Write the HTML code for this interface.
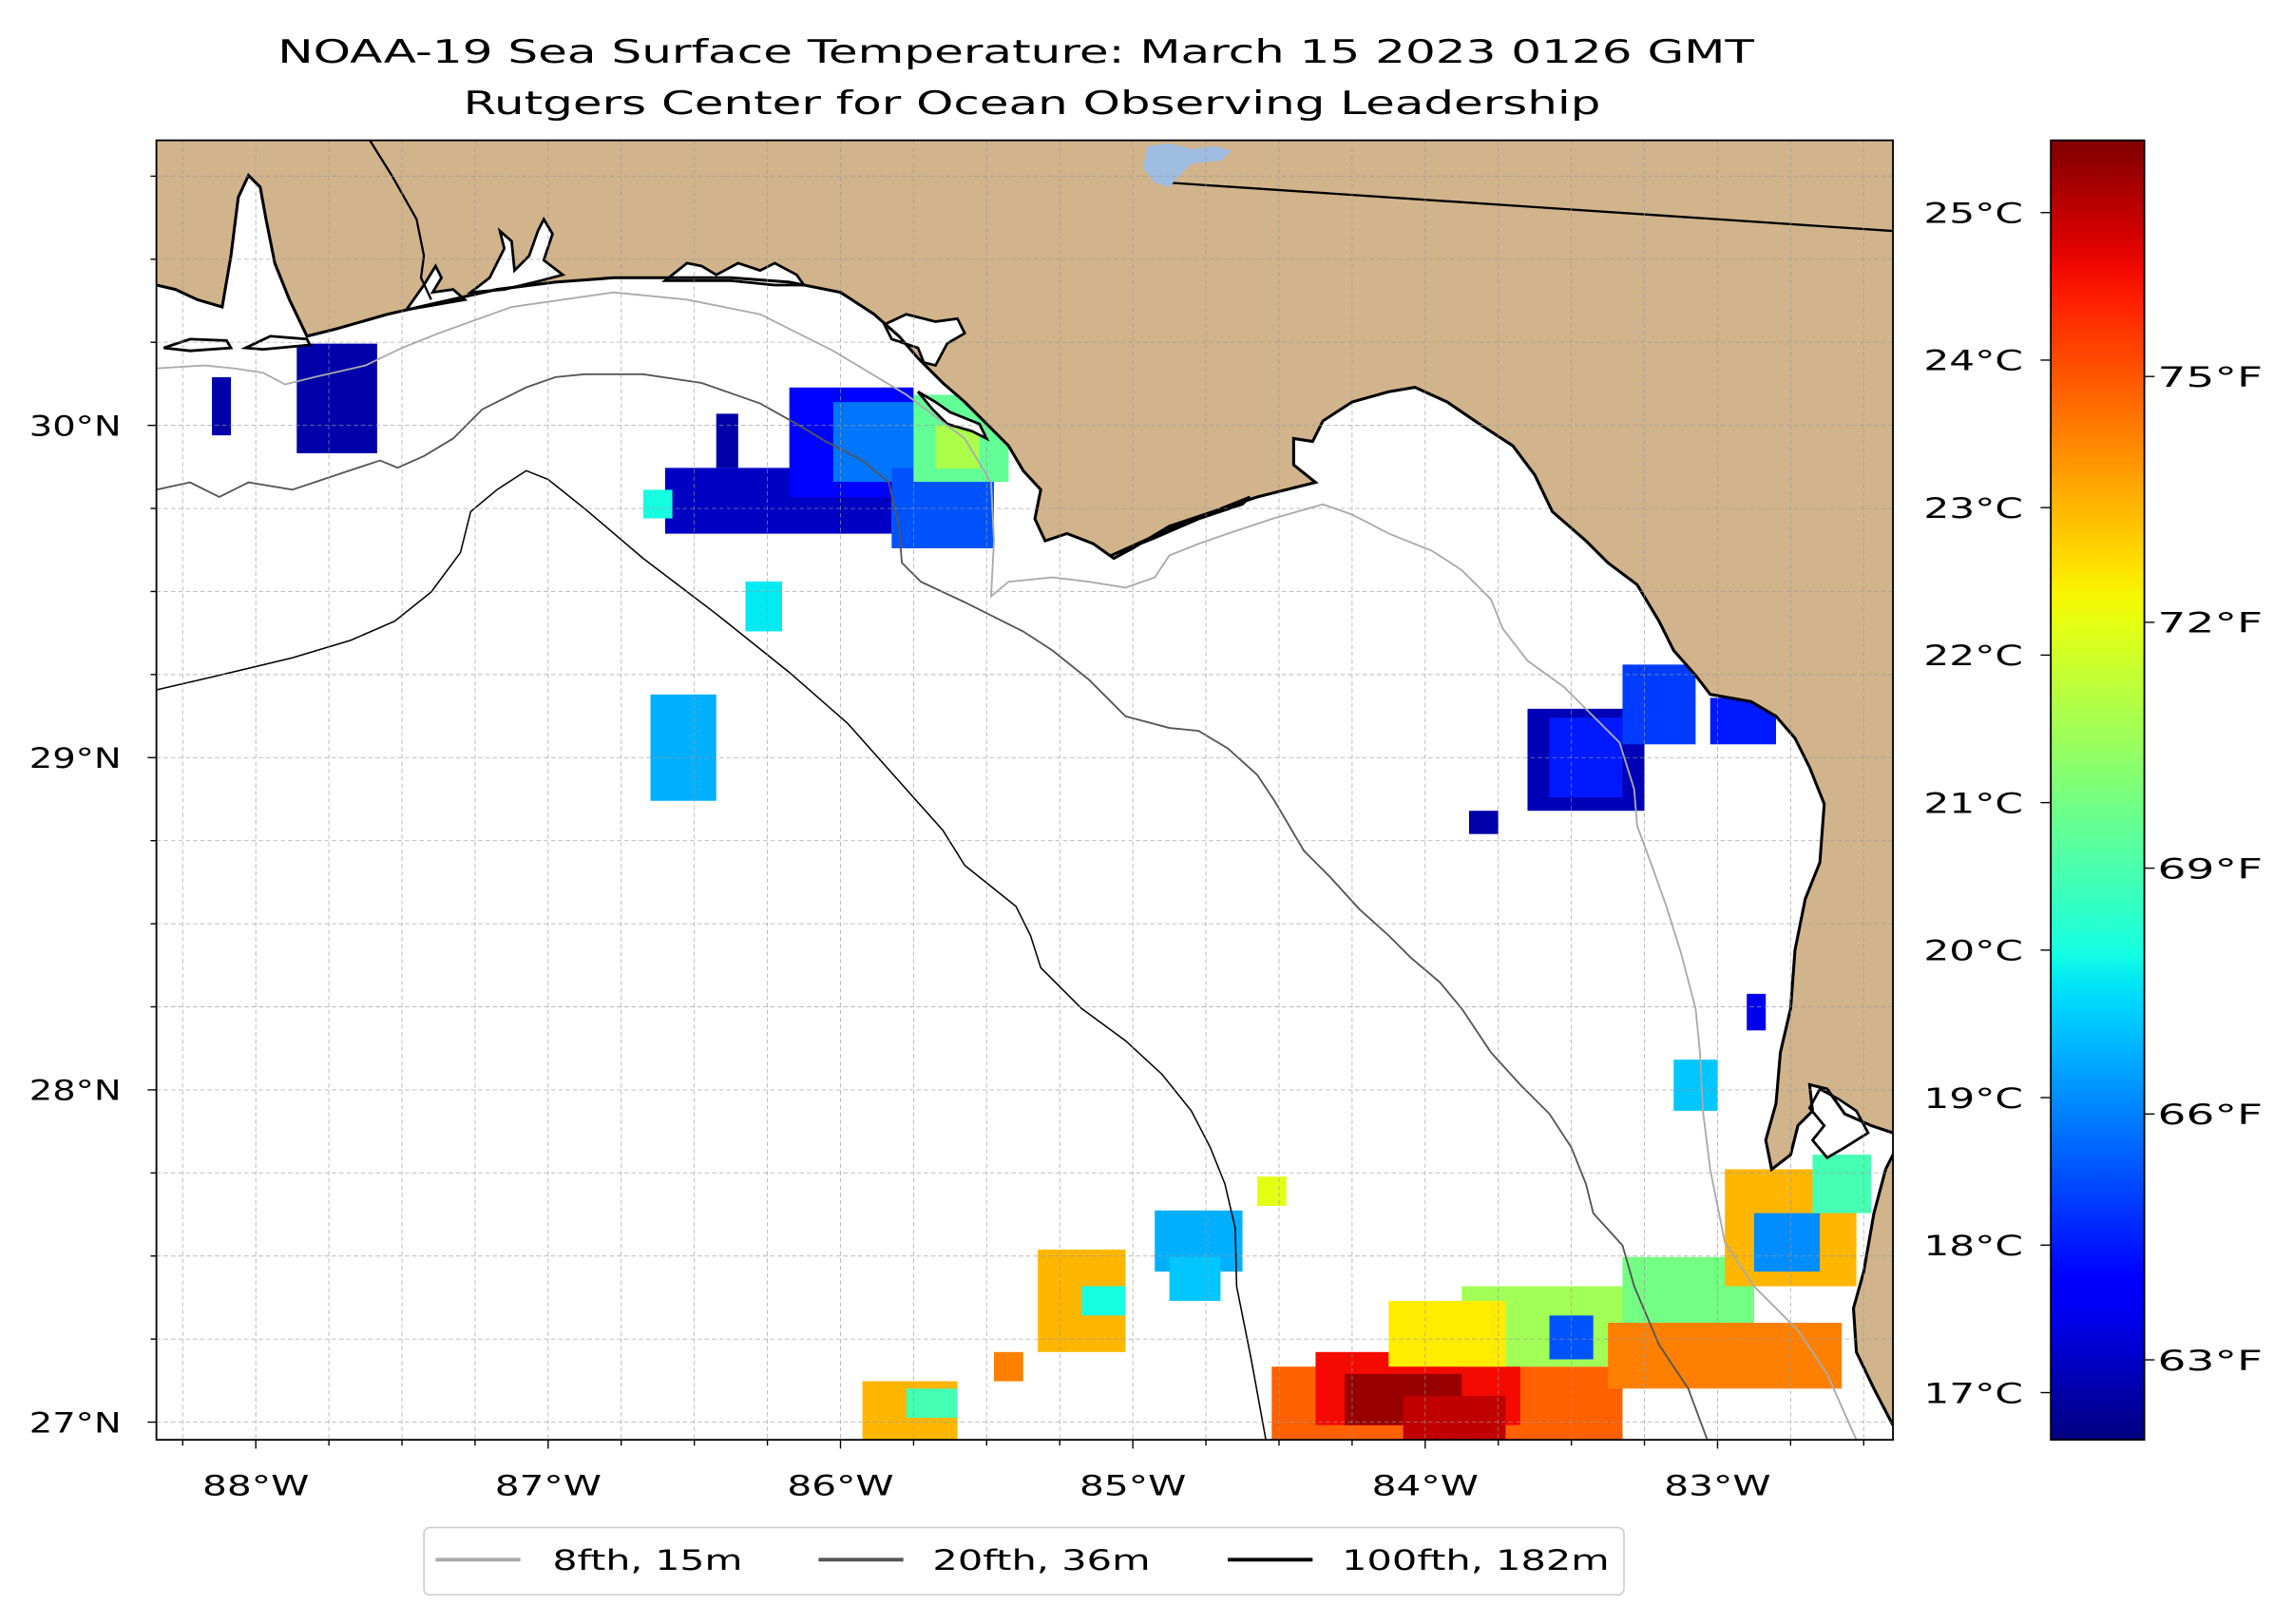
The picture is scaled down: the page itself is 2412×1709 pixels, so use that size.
<!DOCTYPE html>
<html><head><meta charset="utf-8"><title>NOAA-19 SST</title>
<style>
html,body{margin:0;padding:0;background:#fff;}
svg{display:block;font-family:"DejaVu Sans","Liberation Sans",sans-serif;}
</style></head>
<body>
<svg id="fig" width="2412" height="1709" viewBox="0 0 1568 1111" xmlns="http://www.w3.org/2000/svg">
<defs>
<clipPath id="mapclip"><rect x="107" y="96" width="1188" height="889"/></clipPath>
<linearGradient id="jetgrad" x1="0" y1="1" x2="0" y2="0"></linearGradient>
</defs>
<text x="190" y="43" font-size="22" textLength="1010" lengthAdjust="spacingAndGlyphs" fill="#000">NOAA-19 Sea Surface Temperature: March 15 2023 0126 GMT</text>
<text x="317" y="78" font-size="22" textLength="778" lengthAdjust="spacingAndGlyphs" fill="#000">Rutgers Center for Ocean Observing Leadership</text>
<g clip-path="url(#mapclip)">
<rect x="107" y="96" width="1188" height="889" fill="#fff"/>
<g id="sst"></g>
<path fill="#d2b48c" stroke="none" d="M107,96 L1295,96 L1295,975 L1282,950 L1270,925 L1268,895 L1275,870 L1282,830 L1290,800 L1295,790 L1295,775 L1280,770 L1262,762 L1250,745 L1238,742 L1240,760 L1230,770 L1225,790 L1212,800 L1208,780 L1215,755 L1218,720 L1225,690 L1228,650 L1235,615 L1245,590 L1248,550 L1238,525 L1228,505 L1215,490 L1198,480 L1170,475 L1160,462 L1145,445 L1135,425 L1120,400 L1100,385 L1085,370 L1062,350 L1050,325 L1035,305 L1012,290 L990,275 L968,265 L950,268 L925,275 L905,288 L898,302 L885,300 L885,318 L900,330 L860,340 L830,350 L800,360 L775,375 L762,382 L748,372 L730,365 L715,370 L708,355 L712,335 L700,322 L690,305 L675,290 L660,275 L645,262 L628,245 L615,230 L598,215 L575,200 L540,193 L500,190 L460,190 L420,190 L380,193 L340,198 L300,207 L265,215 L230,225 L210,230 L198,205 L188,180 L182,150 L178,128 L170,120 L163,135 L158,175 L152,210 L135,205 L120,198 L107,195 Z"/>
<g fill="#fff" stroke="#000" stroke-width="1.8">
<path d="M278,212 L290,195 L298,182 L302,190 L296,200 L310,198 L318,205 Z"/>
<path d="M322,200 L335,190 L345,170 L342,158 L350,165 L352,185 L362,175 L368,158 L372,150 L378,160 L372,178 L385,188 L370,192 L345,198 Z"/>
<path d="M455,192 L470,180 L480,182 L490,188 L505,180 L520,185 L530,180 L545,188 L550,195 L530,195 L500,192 Z"/>
<path d="M605,222 L620,215 L640,220 L655,218 L660,228 L648,235 L640,250 L632,248 L628,238 L610,232 Z"/>
<path d="M628,268 L640,275 L650,282 L670,290 L675,300 L665,295 L648,290 L638,280 Z"/>
<path d="M760,380 L790,368 L820,355 L850,345 L855,340 L830,350 L800,362 Z"/>
<path d="M112,238 L130,232 L155,233 L158,238 L130,240 Z"/>
<path d="M168,238 L185,230 L210,232 L212,236 L180,239 Z"/>
<path d="M1245,745 L1258,752 L1270,760 L1278,775 L1262,785 L1250,792 L1240,780 L1248,770 L1238,758 Z"/>
</g>
<path fill="none" stroke="#000" stroke-width="2" d="M1295,975 L1282,950 L1270,925 L1268,895 L1275,870 L1282,830 L1290,800 L1295,790 M1295,775 L1280,770 L1262,762 L1250,745 L1238,742 L1240,760 L1230,770 L1225,790 L1212,800 L1208,780 L1215,755 L1218,720 L1225,690 L1228,650 L1235,615 L1245,590 L1248,550 L1238,525 L1228,505 L1215,490 L1198,480 L1170,475 L1160,462 L1145,445 L1135,425 L1120,400 L1100,385 L1085,370 L1062,350 L1050,325 L1035,305 L1012,290 L990,275 L968,265 L950,268 L925,275 L905,288 L898,302 L885,300 L885,318 L900,330 L860,340 L830,350 L800,360 L775,375 L762,382 L748,372 L730,365 L715,370 L708,355 L712,335 L700,322 L690,305 L675,290 L660,275 L645,262 L628,245 L615,230 L598,215 L575,200 L540,193 L500,190 L460,190 L420,190 L380,193 L340,198 L300,207 L265,215 L230,225 L210,230 L198,205 L188,180 L182,150 L178,128 L170,120 L163,135 L158,175 L152,210 L135,205 L120,198 L107,195"/>
<path fill="none" stroke="#000" stroke-width="1.5" d="M253,96 L268,120 L285,150 L290,175 L288,190 L295,205"/>
<path fill="none" stroke="#000" stroke-width="1.5" d="M800,125 L1295,158"/>
<path fill="#9fbde0" d="M785,100 L800,98 L815,102 L830,100 L843,103 L835,110 L815,112 L805,122 L800,128 L790,125 L782,115 Z"/>
<g id="isobaths"></g>
<g id="grid"></g>
</g>
<rect x="107" y="96" width="1188" height="889" fill="none" stroke="#000" stroke-width="1.2"/>
<g id="axes"></g>
<rect x="1403" y="96" width="64" height="889" fill="url(#jetgrad)"/>
<rect x="1403" y="96" width="64" height="889" fill="none" stroke="#000" stroke-width="1.2"/>
<g id="cbaxis"></g>
<g>
<rect x="290" y="1045" width="821" height="46" rx="4" fill="#fff" stroke="#ccc" stroke-width="1"/>
<line x1="298" y1="1067" x2="356" y2="1067" stroke="#aaa" stroke-width="2.5"/>
<text x="378" y="1074" font-size="19" textLength="130" lengthAdjust="spacingAndGlyphs">8fth, 15m</text>
<line x1="560" y1="1067" x2="618" y2="1067" stroke="#555" stroke-width="2.5"/>
<text x="638" y="1074" font-size="19" textLength="149" lengthAdjust="spacingAndGlyphs">20fth, 36m</text>
<line x1="840" y1="1067" x2="898" y2="1067" stroke="#000" stroke-width="2.5"/>
<text x="918" y="1074" font-size="19" textLength="183" lengthAdjust="spacingAndGlyphs">100fth, 182m</text>
</g>
</svg>
<script>
// ---- data ----
const lonTicks = [-88, -87, -86, -85, -84, -83];
const lonTickLabels = ["88°W", "87°W", "86°W", "85°W", "84°W", "83°W"];
const latTicks = [27, 28, 29, 30];
const latTickLabels = ["27°N", "28°N", "29°N", "30°N"];
const cTicks = [17, 18, 19, 20, 21, 22, 23, 24, 25];
const fTicks = [63, 66, 69, 72, 75];
const tempRange = [16.68, 25.49];
const patchLonW = [-87.86,-88.15,-86.6,-86.175,-86.025,-85.825,-85.75,-85.675,-86.675,-86.425,-86.325,-86.65,-83.65,-83.575,-83.325,-83.025,-83.85,-82.9,-83.15,-84.925,-84.875,-85.325,-85.175,-85.475,-85.925,-85.775,-84.525,-84.375,-83.875,-83.575,-83.325,-82.975,-83.375,-82.875,-82.675,-84.125,-84.575,-84.275,-84.075];
const patchLonE = [-87.585,-88.085,-85.825,-85.75,-85.675,-85.475,-85.425,-85.525,-86.575,-86.35,-86.2,-86.425,-83.25,-83.325,-83.075,-82.8,-83.75,-82.835,-83.0,-84.625,-84.7,-85.025,-85.025,-85.375,-85.6,-85.6,-83.325,-83.675,-83.225,-83.425,-82.875,-82.525,-82.575,-82.65,-82.475,-83.725,-84.475,-83.875,-83.725];
const patchLatN = [30.246,30.145,29.872,30.114,30.07,29.872,30.092,30.0,29.806,30.035,29.53,29.19,29.147,29.12,29.28,29.18,28.84,28.289,28.091,27.637,27.497,27.519,27.409,27.211,27.123,27.101,27.167,27.211,27.409,27.321,27.497,27.761,27.299,27.629,27.805,27.365,27.739,27.145,27.079];
const patchLatS = [29.916,29.97,29.674,29.784,29.83,29.63,29.83,29.87,29.72,29.872,29.38,28.87,28.84,28.88,29.04,29.04,28.77,28.179,27.937,27.453,27.365,27.211,27.321,27.123,26.947,27.013,26.947,26.991,27.167,27.189,27.299,27.409,27.101,27.453,27.629,27.167,27.651,26.991,26.947];
const patchTemp = [17.0,17.0,17.2,17.8,18.8,18.5,20.8,21.6,20.0,17.0,19.8,19.3,17.1,18.0,18.3,18.0,17.0,17.5,19.5,19.3,19.5,23.0,20.0,23.5,23.0,20.5,23.8,24.6,21.5,18.5,21.0,23.0,23.5,19.0,20.5,22.5,22.2,25.3,25.0];

// ---- scales ----
const NS = "http://www.w3.org/2000/svg";
function xOf(lon){ return 175 + (lon + 88) * 200; }
function yOf(lat){ return 291 - (lat - 30) * 227.3; }
function cbY(t){ return 985 - (t - tempRange[0]) / (tempRange[1] - tempRange[0]) * 889; }
function interp(pts, v){
  for (let i = 1; i < pts.length; i++) {
    if (v <= pts[i][0]) { const a = pts[i-1], b = pts[i]; return a[1] + (b[1]-a[1]) * (v-a[0]) / (b[0]-a[0]); }
  }
  return pts[pts.length-1][1];
}
function jet(v){
  v = Math.max(0, Math.min(1, v));
  const r = interp([[0,0],[0.35,0],[0.66,1],[0.89,1],[1,0.5]], v);
  const g = interp([[0,0],[0.125,0],[0.375,1],[0.64,1],[0.91,0],[1,0]], v);
  const b = interp([[0,0.5],[0.11,1],[0.34,1],[0.65,0],[1,0]], v);
  return "rgb(" + Math.round(r*255) + "," + Math.round(g*255) + "," + Math.round(b*255) + ")";
}
function tempColor(t){ return jet((t - tempRange[0]) / (tempRange[1] - tempRange[0])); }
function mk(tag, attrs, parent){
  const e = document.createElementNS(NS, tag);
  for (const k in attrs) e.setAttribute(k, attrs[k]);
  parent.appendChild(e);
  return e;
}

// colorbar gradient
const grad = document.getElementById("jetgrad");
for (let i = 0; i <= 40; i++) {
  mk("stop", {offset: (i/40).toString(), "stop-color": jet(i/40)}, grad);
}

// SST patches
const sst = document.getElementById("sst");
for (let i = 0; i < patchTemp.length; i++) {
  const x0 = xOf(patchLonW[i]), x1 = xOf(patchLonE[i]);
  const y0 = yOf(patchLatN[i]), y1 = yOf(patchLatS[i]);
  const r = mk("rect", {x: x0, y: y0, width: x1 - x0, height: y1 - y0, fill: tempColor(patchTemp[i])}, sst);
  
  
}

// isobaths
const iso = document.getElementById("isobaths");
const isoDefs = [
  {name: "isobath-8fth", color: "#aaa", w: 1.2, d: "M107,252 L140,250 L160,252 L180,255 L195,263 L215,258 L250,250 L275,238 L300,228 L350,210 L420,200 L470,205 L520,215 L570,240 L620,270 L660,300 L678,330 L680,370 L678,408 L690,398 L720,395 L745,398 L770,402 L790,395 L800,380 L820,372 L840,365 L870,355 L905,345 L925,352 L950,365 L980,377 L1000,390 L1020,410 L1028,430 L1045,452 L1070,470 L1090,490 L1108,508 L1118,540 L1120,565 L1130,592 L1140,620 L1150,652 L1160,690 L1163,720 L1165,760 L1170,800 L1180,850 L1200,880 L1230,910 L1250,940 L1270,985"},
  {name: "isobath-20fth", color: "#555", w: 1.2, d: "M107,335 L130,330 L150,340 L170,330 L200,335 L230,325 L260,315 L272,320 L290,312 L310,300 L330,280 L360,265 L380,258 L400,256 L440,256 L480,262 L520,276 L545,290 L565,302 L590,315 L608,330 L615,360 L617,385 L630,398 L660,412 L700,432 L720,445 L745,465 L770,490 L800,498 L820,500 L840,512 L860,530 L872,548 L882,565 L892,582 L910,600 L930,622 L950,640 L965,655 L985,672 L1000,690 L1020,720 L1040,742 L1060,762 L1075,785 L1085,810 L1090,830 L1110,852 L1118,880 L1135,920 L1155,950 L1168,985"},
  {name: "isobath-100fth", color: "#000", w: 1.0, d: "M107,472 L150,462 L200,450 L240,438 L270,425 L295,405 L315,378 L322,350 L340,335 L360,322 L375,328 L400,348 L440,382 L490,420 L540,460 L580,495 L620,540 L645,568 L660,592 L695,620 L705,640 L712,662 L740,690 L770,712 L795,735 L815,760 L828,785 L838,810 L845,840 L846,880 L856,930 L866,985"}
];
for (const s of isoDefs) {
  const p = mk("path", {d: s.d, fill: "none", stroke: s.color, "stroke-width": s.w}, iso);
  
  
}

// gridlines every 0.25 deg
const grid = document.getElementById("grid");
for (let lon = -88.25; lon <= -82.4; lon += 0.25) {
  const x = xOf(lon);
  const l = mk("line", {x1: x, y1: 96, x2: x, y2: 985, stroke: "#999", "stroke-width": 0.6, "stroke-dasharray": "3,2", opacity: 0.7}, grid);
  
  
}
for (let lat = 27; lat <= 30.9; lat += 0.25) {
  const y = yOf(lat);
  const l = mk("line", {x1: 107, y1: y, x2: 1295, y2: y, stroke: "#999", "stroke-width": 0.6, "stroke-dasharray": "3,2", opacity: 0.7}, grid);
  
  
}

// axes ticks
const axes = document.getElementById("axes");
for (let lon = -88.25; lon <= -82.4; lon += 0.25) {
  const x = xOf(lon);
  const major = Math.abs(lon - Math.round(lon)) < 1e-6;
  mk("line", {x1: x, y1: 985, x2: x, y2: major ? 991 : 989, stroke: "#000", "stroke-width": 0.9}, axes);
}
for (let lat = 27; lat <= 30.9; lat += 0.25) {
  const y = yOf(lat);
  const major = Math.abs(lat - Math.round(lat)) < 1e-6;
  mk("line", {x1: 107, y1: y, x2: major ? 101 : 103, y2: y, stroke: "#000", "stroke-width": 0.9}, axes);
}
for (let i = 0; i < lonTicks.length; i++) {
  const t = mk("text", {x: xOf(lonTicks[i]) - 36.5, y: 1023, "font-size": 19, textLength: 73, lengthAdjust: "spacingAndGlyphs"}, axes);
  t.textContent = lonTickLabels[i];
  
  
}
for (let i = 0; i < latTicks.length; i++) {
  const t = mk("text", {x: 20, y: yOf(latTicks[i]) + 7, "font-size": 19, textLength: 63, lengthAdjust: "spacingAndGlyphs"}, axes);
  t.textContent = latTickLabels[i];
  
  
}

// colorbar axes
const cb = document.getElementById("cbaxis");
for (const c of cTicks) {
  const y = cbY(c);
  mk("line", {x1: 1403, y1: y, x2: 1396, y2: y, stroke: "#000", "stroke-width": 0.9}, cb);
  const t = mk("text", {x: 1316, y: y + 7, "font-size": 19, textLength: 68, lengthAdjust: "spacingAndGlyphs"}, cb);
  t.textContent = c + "°C";
  
  
}
for (const f of fTicks) {
  const y = cbY((f - 32) * 5 / 9);
  mk("line", {x1: 1467, y1: y, x2: 1474, y2: y, stroke: "#000", "stroke-width": 0.9}, cb);
  const t = mk("text", {x: 1476, y: y + 7, "font-size": 19, textLength: 72, lengthAdjust: "spacingAndGlyphs"}, cb);
  t.textContent = f + "°F";
  
  
}
</script>
</body></html>
